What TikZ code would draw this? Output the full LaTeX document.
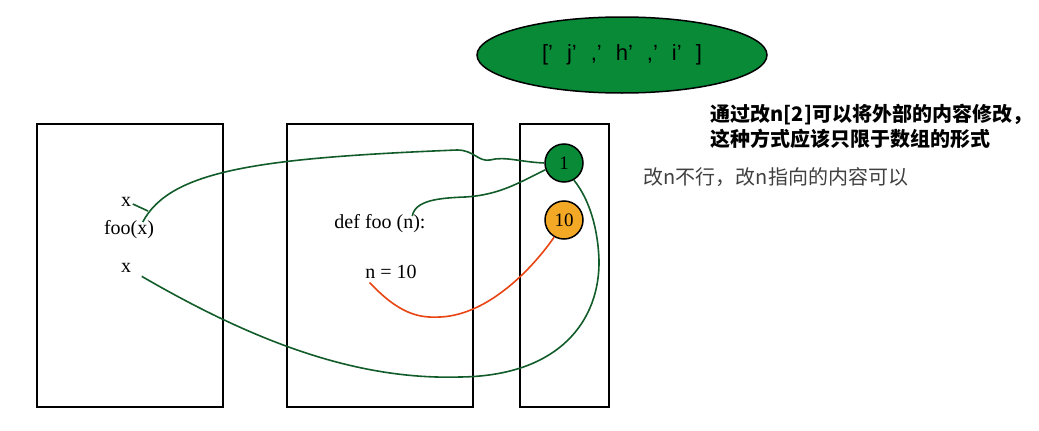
\documentclass[tikz,border=0pt]{standalone}
\usepackage{fontspec}
\setmainfont{Liberation Serif}
\newfontfamily\cjk{Noto Sans CJK SC}
\newfontfamily\listfont{Liberation Sans}
\usetikzlibrary{shapes.geometric, calc}
\definecolor{valgreen}{RGB}{8,138,54}
\definecolor{valorange}{RGB}{243,168,38}
\definecolor{refgreen}{RGB}{18,92,42}
\definecolor{refred}{RGB}{232,68,18}
\definecolor{hintgray}{RGB}{64,64,64}
\tikzstyle{every node}=[inner sep=2pt, font=\fontsize{20}{23}\selectfont]
\tikzstyle{valuecell}=[circle, draw, line width=1.5pt, minimum size=38pt, inner sep=0pt,
    font=\fontsize{19}{22}\selectfont]
\tikzstyle{refline}=[line width=1.6pt, refgreen]
\newcommand{\gap}{\hspace{14pt}}

\begin{document}
\begin{tikzpicture}[x=1pt, y=-1pt, line width=1.5pt]
    \useasboundingbox (0,0) rectangle (1039,431);
% Frames
    \draw (37,124) rectangle (223,407);
    \draw (287,124) rectangle (473,407);
    \draw (520,124) rectangle (609,407);
% Values
    \node[ellipse, draw, fill=valgreen, minimum width=290pt, minimum height=76pt,
        font=\listfont\fontsize{22}{26}\selectfont] (list) at (622,55)
        {[’\gap j’\gap ,’\gap h’\gap ,’\gap i’\gap ]};
    \node[valuecell, fill=valgreen] (one) at (564,163) {1};
    \node[valuecell, fill=valorange] (ten) at (564,220) {10};
% Labels
    \node (xa) at (126,202) {x};
    \node (foox) at (129,230) {foo(x)};
    \node (xb) at (126,268) {x};
    \node (deffoo) at (380,224) {def foo (n):};
    \node (nten) at (391,272) {n = 10};
    \node[anchor=west, align=left, font=\cjk\bfseries\fontsize{20}{25}\selectfont] (note) at (708,126)
        {通过改n[2]可以将外部的内容修改，\\这种方式应该只限于数组的形式};
    \node[anchor=west, text=hintgray, font=\cjk\fontsize{20}{24}\selectfont] (hint) at (641,177)
        {改n不行，改n指向的内容可以};
% References
    \coordinate (tick) at (148,211);
    \draw[refline] ($(xa.east)+(-1,2)$) -- (tick);
    \draw[refline] ($(foox.north east)+(-14,4)$) .. controls (170,170) and (260,158) .. (457,150)
        .. controls (474,150) and (478,162) .. (490,160)
        .. controls (505,156) and (520,162) .. (one.west);
    \draw[refline] ($(deffoo.north east)+(-16,4)$) .. controls (415,200) and (440,198) .. (465,197)
        .. controls (500,195) and (520,182) .. (one.200);
    \draw[refline] ($(xb.south east)+(8,1)$) .. controls (260,345) and (360,380) .. (460,377)
        .. controls (560,376) and (600,320) .. (599,260)
        .. controls (598,230) and (590,200) .. (one.-60);
    \draw[line width=1.6pt, refred] ($(nten.south west)+(7,1)$) .. controls (400,315) and (420,318) .. (440,317)
        .. controls (490,315) and (535,265) .. (ten.240);
\end{tikzpicture}
\end{document}
